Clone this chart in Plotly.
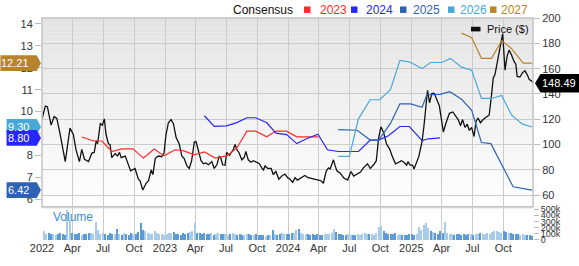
import plotly.graph_objects as go
import numpy as np
import pandas as pd

# ---------------- data ----------------
price_dates = ["2022-01-01","2022-01-11","2022-01-17","2022-01-28","2022-02-06","2022-02-14","2022-02-24","2022-03-11","2022-03-25","2022-04-04","2022-04-12","2022-04-22","2022-04-29","2022-05-07","2022-05-19","2022-05-29","2022-06-05","2022-06-11","2022-06-15","2022-06-23","2022-06-29","2022-07-05","2022-07-10","2022-07-17","2022-07-22","2022-07-27","2022-08-06","2022-08-13","2022-08-19","2022-08-24","2022-09-05","2022-09-14","2022-09-21","2022-10-04","2022-10-14","2022-10-19","2022-10-27","2022-11-06","2022-11-13","2022-11-21","2022-11-26","2022-12-03","2022-12-12","2022-12-22","2022-12-29","2023-01-04","2023-01-11","2023-01-19","2023-01-26","2023-02-03","2023-02-12","2023-02-20","2023-02-27","2023-03-07","2023-03-14","2023-03-21","2023-03-29","2023-04-03","2023-04-10","2023-04-18","2023-04-25","2023-05-02","2023-05-10","2023-05-20","2023-05-27","2023-06-04","2023-06-11","2023-06-16","2023-06-21","2023-06-28","2023-07-03","2023-07-11","2023-07-16","2023-07-23","2023-07-28","2023-08-02","2023-08-09","2023-08-17","2023-08-24","2023-08-29","2023-09-05","2023-09-13","2023-09-20","2023-09-30","2023-10-08","2023-10-15","2023-10-20","2023-10-25","2023-11-02","2023-11-12","2023-11-18","2023-11-26","2023-12-05","2023-12-13","2023-12-23","2023-12-31","2024-01-07","2024-01-15","2024-01-22","2024-01-29","2024-02-06","2024-02-20","2024-03-01","2024-03-16","2024-03-31","2024-04-08","2024-04-15","2024-04-23","2024-04-30","2024-05-05","2024-05-15","2024-05-20","2024-05-25","2024-06-04","2024-06-14","2024-06-26","2024-07-06","2024-07-14","2024-07-24","2024-08-03","2024-08-12","2024-08-24","2024-09-01","2024-09-11","2024-09-19","2024-09-26","2024-10-03","2024-10-11","2024-10-19","2024-10-29","2024-11-05","2024-11-15","2024-11-25","2024-12-02","2024-12-10","2024-12-18","2024-12-22","2024-12-28","2025-01-05","2025-01-09","2025-01-23","2025-02-02","2025-02-08","2025-02-14","2025-02-18","2025-02-24","2025-03-03","2025-03-10","2025-03-18","2025-03-25","2025-03-30","2025-04-06","2025-04-14","2025-04-24","2025-05-04","2025-05-13","2025-05-20","2025-05-27","2025-06-02","2025-06-09","2025-06-16","2025-06-22","2025-06-29","2025-07-06","2025-07-12","2025-07-18","2025-07-25","2025-08-02","2025-08-12","2025-08-20","2025-08-27","2025-09-01","2025-09-06","2025-09-13","2025-09-21","2025-09-29","2025-10-06","2025-10-12","2025-10-18","2025-10-25","2025-11-01","2025-11-07","2025-11-11","2025-11-19","2025-11-27","2025-12-04","2025-12-11","2025-12-17","2025-12-24","2025-12-28"]
price_values = [120.3,130.5,130.0,115.4,122.2,120.7,108.0,86.6,113.0,108.0,95.8,86.6,96.3,88.5,86.6,93.4,93.9,103.1,100.7,116.6,115.4,120.3,108.0,100.7,100.2,89.8,92.9,91.0,93.9,89.8,91.0,84.9,79.3,81.2,72.7,71.5,64.2,69.5,71.5,80.0,76.4,89.0,91.0,90.5,93.4,108.0,117.3,119.8,116.6,105.6,100.7,91.0,89.0,83.2,81.2,87.3,102.0,102.4,95.8,87.3,84.9,85.6,84.1,86.6,81.2,84.1,91.0,89.0,84.1,83.7,93.9,91.4,93.4,96.3,100.2,96.3,93.4,88.0,89.8,94.7,88.0,86.1,87.3,85.6,84.9,81.7,80.0,83.2,81.2,81.2,76.4,78.8,72.7,75.1,76.8,73.9,72.7,70.2,73.9,72.0,73.4,75.6,73.9,72.7,72.0,71.5,69.5,78.8,81.7,80.8,88.0,83.2,79.3,77.5,73.9,72.0,78.8,75.1,76.8,78.3,81.7,84.9,81.2,84.1,87.3,105.6,114.1,109.3,100.7,96.3,91.0,84.9,86.1,87.3,86.1,83.7,86.6,84.0,83.7,80.8,90.5,102.7,116.1,129.5,142.9,133.1,140.5,140.5,135.6,130.7,122.2,110.0,117.3,124.7,125.8,122.2,119.8,114.9,119.8,113.7,116.1,111.2,113.7,106.4,118.5,121.0,117.3,119.8,121.7,123.4,139.3,152.7,155.1,164.9,175.9,187.6,158.8,169.7,174.6,171.0,166.1,163.6,153.9,153.4,156.8,158.3,155.1,151.4,150.3,148.49]

eps2023_dates = ["2022-04-29","2022-06-03","2022-06-28","2022-07-27","2022-08-26","2022-09-28","2022-10-29","2022-11-30","2022-12-29","2023-01-31","2023-02-24","2023-03-29","2023-04-28","2023-05-30","2023-07-03","2023-08-02","2023-09-01","2023-09-27","2023-10-30","2023-11-26","2023-12-28","2024-01-27","2024-02-25","2024-03-31"]
eps2023 = [8.84,8.66,8.66,8.18,8.30,8.30,7.88,8.29,7.98,8.26,8.22,8.03,8.16,7.88,7.98,8.33,9.11,9.11,8.85,9.11,9.11,8.85,8.85,8.85]

eps2024_dates = ["2023-04-28","2023-05-27","2023-07-03","2023-08-02","2023-09-01","2023-09-27","2023-10-30","2023-11-26","2023-12-28","2024-01-27","2024-02-25","2024-03-30","2024-04-27","2024-05-29","2024-07-28","2024-09-01","2024-09-26","2024-10-25","2024-11-28","2024-12-26","2025-02-02","2025-02-21","2025-03-27"]
eps2024 = [9.81,9.33,9.35,9.50,9.72,9.72,9.49,9.02,8.95,8.54,8.76,8.97,8.26,8.18,8.18,8.70,8.70,8.90,9.32,9.32,8.68,8.76,8.80]

eps2025_dates = ["2024-05-29","2024-07-24","2024-09-01","2024-09-26","2024-10-31","2024-11-28","2024-12-30","2025-02-02","2025-02-16","2025-03-27","2025-04-25","2025-05-30","2025-06-29","2025-07-28","2025-08-25","2025-10-30","2025-12-25"]
eps2025 = [9.18,9.15,8.70,8.70,9.46,10.35,10.35,10.20,10.77,10.79,10.91,10.56,10.06,8.59,8.54,6.57,6.42]

eps2026_dates = ["2024-05-29","2024-07-01","2024-07-28","2024-09-01","2024-09-29","2024-10-31","2024-11-28","2024-12-26","2025-02-02","2025-02-27","2025-04-01","2025-04-27","2025-05-30","2025-06-29","2025-07-28","2025-08-27","2025-09-26","2025-10-25","2025-11-27","2025-12-25"]
eps2026 = [7.96,7.96,9.67,10.54,10.54,11.00,12.34,12.27,11.96,12.24,12.24,12.43,12.03,11.89,10.60,10.60,10.74,9.85,9.43,9.30]

eps2027_dates = ["2025-05-30","2025-06-29","2025-07-28","2025-08-27","2025-09-26","2025-10-25","2025-11-29","2025-12-25"]
eps2027 = [13.58,13.37,12.43,12.43,13.23,12.88,12.21,12.21]

volume_start = "2022-01-07"
volume_k = [
    130, 95, 100, 85, 95, 75, 95, 110, 95, 80, 480, 320, 110,
    85, 90, 110, 75, 95, 90, 100, 110, 85, 290, 160, 90, 100,
    95, 80, 100, 90, 85, 175, 90, 75, 100, 95, 80, 110, 90,
    85, 120, 270, 150, 130, 110, 95, 90, 130, 100, 85, 95, 80,
    90, 110, 100, 120, 85, 95, 80, 100, 90, 110, 120, 140, 270,
    110, 100, 95, 110, 90, 85, 100, 80, 95, 110, 90, 85, 95,
    80, 90, 100, 85, 75, 95, 80, 70, 85, 90, 80, 75, 85,
    70, 75, 80, 65, 70, 80, 150, 85, 75, 90, 100, 85, 95,
    90, 100, 110, 150, 170, 100, 85, 95, 90, 80, 85, 75, 90,
    80, 75, 85, 90, 95, 100, 170, 120, 90, 85, 80, 75, 85,
    80, 70, 75, 85, 80, 90, 100, 85, 90, 95, 80, 110, 210,
    220, 130, 100, 90, 85, 95, 110, 80, 85, 75, 70, 80, 90,
    85, 80, 90, 200, 150, 230, 270, 180, 130, 120, 110, 90, 140,
    100, 280, 110, 95, 90, 80, 85, 90, 75, 85, 80, 95, 85,
    80, 90, 85, 100, 90, 85, 110, 95, 120, 130, 140, 120, 110,
    130, 120, 110, 100, 95, 90, 85, 80, 90, 75, 70, 80, 60]

tick_dates = ["2022-01-01","2022-04-01","2022-07-01","2022-10-01","2023-01-01","2023-04-01","2023-07-01","2023-10-01",
              "2024-01-01","2024-04-01","2024-07-01","2024-10-01","2025-01-01","2025-04-01","2025-07-01","2025-10-01"]
tick_text = ["2022","Apr","Jul","Oct","2023","Apr","Jul","Oct","2024","Apr","Jul","Oct","2025","Apr","Jul","Oct"]

legend_years = ["2023", "2024", "2025", "2026", "2027"]

# ---------------- styles / layout ----------------
W, H = 579, 266
ML, MR, MT, MB = 42, 46, 14, 12
PW, PH = W - ML - MR, H - MT - MB
FONT = "Arial, Liberation Sans, sans-serif"
price_dom = [0.15, 1.0]
vol_dom = [0.0, 0.142]
eps_range = [5.662, 14.27]
price_range = [51, 200]
vol_range = [0, 509000]
x_range = ["2022-01-01", "2025-12-28"]
colors = {"2023": "#ff2a2a", "2024": "#2626ff", "2025": "#2d63b2", "2026": "#48a9d9", "2027": "#b8832c"}
GRID = "#cbcbcb"


def px_x(p):
    return (p - ML) / PW


def px_y(p):
    return (H - MB - p) / PH


def eps_paper(v):
    return price_dom[0] + (v - eps_range[0]) / (eps_range[1] - eps_range[0]) * (price_dom[1] - price_dom[0])


def price_paper(v):
    return price_dom[0] + (v - price_range[0]) / (price_range[1] - price_range[0]) * (price_dom[1] - price_dom[0])


fig = go.Figure()

# volume
vol_dates = pd.date_range(volume_start, periods=len(volume_k), freq="7D")
pd_ts = pd.to_datetime(price_dates).astype("int64").to_numpy()
vd_ts = vol_dates.astype("int64").to_numpy()
pw = np.interp(vd_ts, pd_ts, price_values)
pw_prev = np.interp(vd_ts - 7 * 86400 * 10**9, pd_ts, price_values)
vcols = ["#a9cbea" if a >= b else "#5d9bd6" for a, b in zip(pw, pw_prev)]
fig.add_trace(go.Bar(x=vol_dates, y=[v * 1000 for v in volume_k], marker=dict(color=vcols, line=dict(width=0)),
                     width=4 * 86400000, xaxis="x", yaxis="y3", showlegend=False, hoverinfo="skip"))

eps_series = [("2023", eps2023_dates, eps2023), ("2024", eps2024_dates, eps2024), ("2025", eps2025_dates, eps2025),
              ("2026", eps2026_dates, eps2026), ("2027", eps2027_dates, eps2027)]
for yr, d, v in eps_series:
    fig.add_trace(go.Scatter(x=d, y=v, mode="lines", line=dict(color=colors[yr], width=1.2),
                             xaxis="x", yaxis="y2", showlegend=False, hoverinfo="skip"))

fig.add_trace(go.Scatter(x=price_dates, y=price_values, mode="lines", line=dict(color="#111111", width=1.3),
                         xaxis="x", yaxis="y", showlegend=False, hoverinfo="skip"))

shapes = []
# gradient background for price pane
N = 40
for i in range(N):
    y0 = price_dom[0] + (price_dom[1] - price_dom[0]) * i / N
    y1 = price_dom[0] + (price_dom[1] - price_dom[0]) * (i + 1) / N
    t = (i + 0.5) / N
    c = int(round(255 - 28 * t))
    shapes.append(dict(type="rect", xref="paper", yref="paper", x0=0, x1=1, y0=y0, y1=y1,
                       fillcolor=f"rgb({c},{c},{c})", line=dict(width=0), layer="below"))
# separator
shapes.append(dict(type="rect", xref="paper", yref="paper", x0=0, x1=1, y0=vol_dom[1], y1=price_dom[0],
                   fillcolor="#e0e0e0", line=dict(width=0), layer="above"))
# border of price pane
shapes.append(dict(type="rect", xref="paper", yref="paper", x0=0, x1=1, y0=price_dom[0], y1=1,
                   fillcolor="rgba(0,0,0,0)", line=dict(color="#c4c4c4", width=1.5), layer="above"))

annotations = []
# top legend
annotations.append(dict(x=px_x(231), y=px_y(5), xref="paper", yref="paper", text="Consensus", showarrow=False,
                        xanchor="left", yanchor="middle", font=dict(family=FONT, size=12, color="#111")))
sq_x = [304, 351, 400, 448, 490]
tx_x = [318, 364, 411, 458, 499]
for yr, sx, tx in zip(legend_years, sq_x, tx_x):
    shapes.append(dict(type="rect", xref="paper", yref="paper", x0=px_x(sx), x1=px_x(sx + 6.5),
                       y0=px_y(8.5), y1=px_y(1.5), fillcolor=colors[yr], line=dict(width=0), layer="above"))
    annotations.append(dict(x=px_x(tx), y=px_y(5), xref="paper", yref="paper", text=yr, showarrow=False,
                            xanchor="left", yanchor="middle", font=dict(family=FONT, size=12, color=colors[yr])))

# price legend
shapes.append(dict(type="rect", xref="paper", yref="paper", x0=px_x(471), x1=px_x(480.5), y0=px_y(28.5), y1=px_y(23.5),
                   fillcolor="#111", line=dict(width=0), layer="above"))
annotations.append(dict(x=px_x(485), y=px_y(26), xref="paper", yref="paper", text="Price ($)", showarrow=False,
                        xanchor="left", yanchor="middle", font=dict(family=FONT, size=11, color="#111")))

# volume label
annotations.append(dict(x=px_x(51), y=px_y(229), xref="paper", yref="paper", text="Volume", showarrow=False,
                        xanchor="left", yanchor="middle", font=dict(family=FONT, size=12, color="#3d8fd1")))

# left tags (last EPS values)
tag_h = 8.5 / PH
for yr, d, v in [("2027", eps2027_dates, eps2027), ("2026", eps2026_dates, eps2026),
                 ("2024", eps2024_dates, eps2024), ("2025", eps2025_dates, eps2025)]:
    val = v[-1]
    txt = f"{val:.2f}"
    tw = sum(3.06 if ch == "." else 6.12 for ch in txt)
    left = max(0.0, 30.5 - tw - 2.5)
    yc = eps_paper(val)
    xl, xr, xt = px_x(left), px_x(36.7), px_x(41)
    path = f"M {xl},{yc - tag_h} L {xr},{yc - tag_h} L {xt},{yc} L {xr},{yc + tag_h} L {xl},{yc + tag_h} Z"
    shapes.append(dict(type="path", xref="paper", yref="paper", path=path, fillcolor=colors[yr],
                       line=dict(width=0), layer="above"))
    annotations.append(dict(x=px_x(31), y=yc, xref="paper", yref="paper", text=txt, showarrow=False,
                            xanchor="right", yanchor="middle", font=dict(family=FONT, size=11, color="white")))

# right tag (last price)
lp = price_values[-1]
yc = price_paper(lp)
th = 10 / PH
path = (f"M {px_x(535)},{yc} L {px_x(540.5)},{yc - th} L {px_x(580)},{yc - th} "
        f"L {px_x(580)},{yc + th} L {px_x(540.5)},{yc + th} Z")
shapes.append(dict(type="path", xref="paper", yref="paper", path=path, fillcolor="#000000",
                   line=dict(width=0), layer="above"))
annotations.append(dict(x=px_x(559), y=yc, xref="paper", yref="paper", text=f"{lp:.2f}", showarrow=False,
                        xanchor="center", yanchor="middle", font=dict(family=FONT, size=11, color="white")))

fig.update_layout(
    width=W, height=H, margin=dict(l=ML, r=MR, t=MT, b=MB),
    paper_bgcolor="white", plot_bgcolor="white", showlegend=False,
    font=dict(family=FONT, size=11, color="#333"),
    bargap=0,
    xaxis=dict(domain=[0, 1], anchor="y3", type="date", range=x_range, tickvals=tick_dates, ticktext=tick_text,
               showgrid=True, gridcolor=GRID, gridwidth=1, ticks="", tickfont=dict(size=11, color="#333"),
               showline=False, zeroline=False, fixedrange=True),
    yaxis=dict(domain=price_dom, anchor="x", side="right", range=price_range, tick0=0, dtick=20,
               showgrid=True, gridcolor=GRID, gridwidth=1, ticks="outside", ticklen=6, tickcolor="#bbbbbb",
               tickfont=dict(size=11, color="#333"), zeroline=False, showline=False),
    yaxis2=dict(overlaying="y", side="left", anchor="x", range=eps_range, tick0=0, dtick=1, showgrid=False,
                ticks="outside", ticklen=6, tickcolor="#bbbbbb", tickfont=dict(size=11, color="#333"),
                zeroline=False, showline=False),
    yaxis3=dict(domain=vol_dom, anchor="x", side="right", range=vol_range,
                tickvals=[0, 100000, 200000, 300000, 400000, 500000],
                ticktext=["0", "100k", "200k", "300k", "400k", "500k"], showgrid=False,
                ticks="outside", ticklen=5, tickcolor="#bbbbbb", tickfont=dict(size=9, color="#333"),
                zeroline=False, showline=False),
    shapes=shapes, annotations=annotations,
)

fig.write_html("out.html")
